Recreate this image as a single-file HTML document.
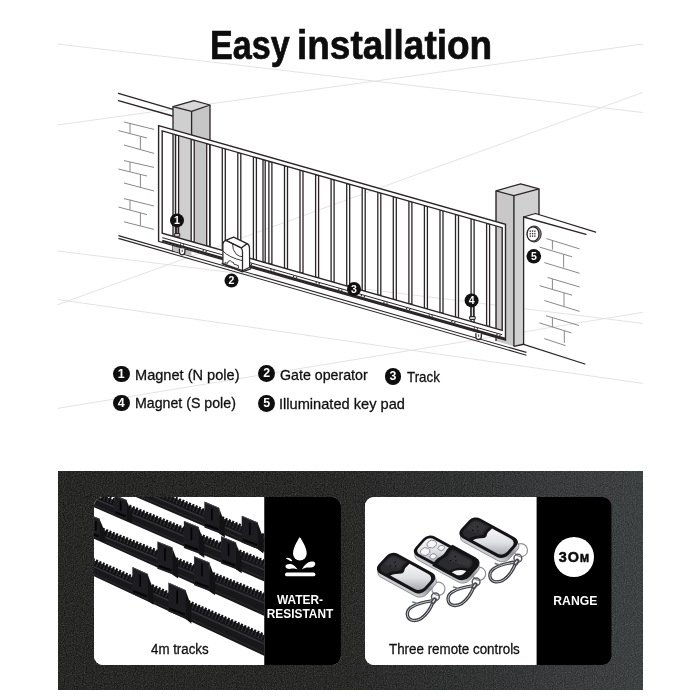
<!DOCTYPE html>
<html lang="en">
<head>
<meta charset="utf-8">
<title>Easy installation</title>
<style>
html,body{margin:0;padding:0;}
body{width:700px;height:700px;background:#fff;position:relative;overflow:hidden;font-family:"Liberation Sans",sans-serif;color:#111;}
#stage{position:absolute;left:0;top:0;width:700px;height:700px;will-change:transform;transform:translateZ(0);}
svg{position:absolute;left:0;top:0;}
svg text{font-family:"Liberation Sans",sans-serif;}
.title{position:absolute;z-index:2;left:0;top:0;margin:0;font-weight:700;font-size:41px;line-height:41px;white-space:nowrap;transform-origin:0 0;letter-spacing:0;-webkit-text-stroke:0.7px #0d0d0d;color:#0d0d0d;}
.tw{position:absolute;top:0;transform-origin:0 0;}
.leg{position:absolute;font-size:15px;line-height:16px;white-space:nowrap;transform-origin:0 0;color:#101010;-webkit-text-stroke:0.3px #101010;}
.num{position:absolute;width:16.8px;height:16.8px;margin:-0.2px 0 0 -0.2px;border-radius:50%;background:#0e0e0e;color:#fff;font-weight:700;font-size:12.4px;line-height:17px;text-align:center;}
.band{position:absolute;left:57.6px;top:471px;width:585.2px;height:219.4px;background:linear-gradient(90deg,#191a18 0%,#1b1c1a 48%,#232424 68%,#2b2d2e 84%,#323536 100%);}
.card{position:absolute;top:497px;height:168px;background:#fff;border-radius:9px;overflow:hidden;}
.panel{position:absolute;top:0;bottom:0;right:0;background:#000;}
.cap{position:absolute;font-size:14px;line-height:16px;white-space:nowrap;color:#101010;transform-origin:0 0;-webkit-text-stroke:0.3px #101010;}
.wt{position:absolute;color:#fff;font-weight:700;font-size:12.6px;line-height:14.6px;text-align:center;white-space:nowrap;transform-origin:50% 0;}
</style>
</head>
<body>
<div id="stage">
<h1 class="title" id="title" style="left:0;top:25px;width:700px;height:41px;"><span class="tw" style="left:209.6px;transform:scaleX(0.833);">Easy</span> <span class="tw" style="left:297px;transform:scaleX(0.902);">installation</span></h1>

<svg width="700" height="460" viewBox="0 0 700 460">
<g stroke="#e3e3e3" stroke-width="1" fill="none">
<line x1="57.5" y1="44" x2="642.9" y2="112.5"/>
<line x1="57.5" y1="125" x2="642.9" y2="44"/>
<line x1="57.5" y1="304.8" x2="642.9" y2="92.4"/>
<line x1="57.5" y1="251" x2="642.9" y2="323.4"/>
<line x1="57.5" y1="299.5" x2="642.9" y2="383.4"/>
<line x1="57.5" y1="408.4" x2="642.9" y2="312.3"/>
</g>
<g stroke="#2b2527" stroke-width="1.3" fill="none" stroke-linecap="round">
<line x1="118.4" y1="93.4" x2="173" y2="109.4"/>
<line x1="118.4" y1="100.6" x2="172.6" y2="116"/>
</g>
<g stroke="#8a8889" stroke-width="1" fill="none">
<line x1="124" y1="122" x2="154" y2="129.4"/>
<line x1="118.4" y1="130.6" x2="147" y2="138"/>
<line x1="124" y1="145" x2="154" y2="153.4"/>
<line x1="124" y1="160.6" x2="154" y2="167.4"/>
<line x1="118.4" y1="169" x2="147" y2="176"/>
<line x1="124" y1="183" x2="154" y2="191"/>
<line x1="124" y1="198.6" x2="154" y2="206"/>
<line x1="118.4" y1="207" x2="147" y2="214.6"/>
<line x1="124" y1="221.8" x2="154" y2="229.4"/>
<line x1="130" y1="122.8" x2="130" y2="133.6"/>
<line x1="140.4" y1="136.4" x2="140.4" y2="150"/>
<line x1="130" y1="162" x2="130" y2="172"/>
<line x1="140.4" y1="174.4" x2="140.4" y2="188"/>
<line x1="130" y1="199.6" x2="130" y2="210"/>
<line x1="140.4" y1="213" x2="140.4" y2="226"/>
</g>
<g stroke="#2b2527" stroke-width="1.1" fill="none">
<line x1="118.4" y1="235.6" x2="526.4" y2="352.4"/>
<line x1="118.4" y1="238.4" x2="526.4" y2="355.2"/>
</g>
<polygon points="173,106.6 191.6,111.4 191.6,246 173,241" fill="#cfcfcf"/>
<polygon points="191.6,111.4 210,105 210,250 191.6,246" fill="#c6c6c6"/>
<polygon points="173,106.6 194,100.6 210,105 191.6,111.4" fill="#d8d8d8" stroke="#2b2527" stroke-width="1.2" stroke-linejoin="round"/>
<g stroke="#2b2527" stroke-width="1.3" fill="none">
<line x1="173" y1="106.6" x2="173" y2="252"/>
<line x1="191.6" y1="111.4" x2="191.6" y2="250"/>
<line x1="210" y1="105" x2="210" y2="255"/>
</g>
<polygon points="496,190.8 513.9,195.7 513.9,346.4 496,341" fill="#c8c8c8"/>
<polygon points="513.9,195.7 539,188.9 539,214.6 535.4,213.5 523.6,217 523.6,344.3 513.9,346.4" fill="#d0d0d0"/>
<polygon points="496,190.8 520.7,183.9 539,188.9 513.9,195.7" fill="#dadada" stroke="#2b2527" stroke-width="1.2" stroke-linejoin="round"/>
<g stroke="#2b2527" stroke-width="1.4" fill="none">
<line x1="496" y1="190.8" x2="496" y2="341"/>
<line x1="513.9" y1="195.7" x2="513.9" y2="346.4"/>
<line x1="539" y1="188.9" x2="539" y2="214.6"/>
<polyline points="513.9,346.4 523.6,344.3"/>
</g>
<g stroke="#2b2527" stroke-width="1.3" fill="none" stroke-linejoin="round" stroke-linecap="round">
<polyline points="523.6,344.3 523.6,217 586,234.3"/>
<polyline points="523.6,217 535.4,213.5 595.7,232.1"/>
<line x1="523.6" y1="344.3" x2="584.9" y2="364"/>
</g>
<g stroke="#8a8889" stroke-width="1" fill="none">
<line x1="546.4" y1="238.6" x2="579.6" y2="248.9"/>
<line x1="539.6" y1="247.1" x2="572.1" y2="256.8"/>
<line x1="544.3" y1="262.6" x2="579.6" y2="273.3"/>
<line x1="547.5" y1="277.4" x2="579.6" y2="287"/>
<line x1="539.6" y1="285.7" x2="572.1" y2="295.2"/>
<line x1="544.3" y1="300.5" x2="579.6" y2="311.4"/>
<line x1="546" y1="315.7" x2="579" y2="325.5"/>
<line x1="539.4" y1="322.9" x2="571.4" y2="332.9"/>
<line x1="544.3" y1="338.6" x2="565.7" y2="345.7"/>
<line x1="552.4" y1="240.4" x2="552.4" y2="249.6"/>
<line x1="563.6" y1="254.4" x2="563.6" y2="267.5"/>
<line x1="552.4" y1="278.8" x2="552.4" y2="289.6"/>
<line x1="564" y1="292.8" x2="564" y2="306.6"/>
<line x1="552.4" y1="317.6" x2="552.4" y2="327"/>
<line x1="564.3" y1="330.8" x2="564.3" y2="342.9"/>
</g>
<ellipse cx="534.2" cy="234" rx="7" ry="8" fill="#9a9698" stroke="#2b2527" stroke-width="1"/>
<ellipse cx="533" cy="234" rx="6" ry="7.2" fill="#fff" stroke="#2b2527" stroke-width="1.3"/>
<g fill="#3a3a3a">
<rect x="529.6" y="230.4" width="1.3" height="1.5"/>
<rect x="529.6" y="232.9" width="1.3" height="1.5"/>
<rect x="529.6" y="235.4" width="1.3" height="1.5"/>
<rect x="531.9" y="230.4" width="1.3" height="1.5"/>
<rect x="531.9" y="232.9" width="1.3" height="1.5"/>
<rect x="531.9" y="235.4" width="1.3" height="1.5"/>
<rect x="534.2" y="230.4" width="1.3" height="1.5"/>
<rect x="534.2" y="232.9" width="1.3" height="1.5"/>
<rect x="534.2" y="235.4" width="1.3" height="1.5"/>
</g>
<polygon points="173,244.9 191.4,250.1 191.4,256.1 173,250.8" fill="#c2c2c2"/>
<g fill="#fff" stroke="#2b2527" stroke-width="1.3">
<polygon points="175.6,134.7 178.6,135.6 178.6,237.9 175.6,237"/>
<polygon points="191.2,139.2 194.2,140 194.2,242.3 191.2,241.5"/>
<polygon points="206.7,143.6 209.7,144.4 209.7,246.8 206.7,245.9"/>
<polygon points="222.3,148 225.3,148.9 225.3,251.2 222.3,250.4"/>
<polygon points="237.8,152.4 240.8,153.3 240.8,255.7 237.8,254.8"/>
<polygon points="253.4,156.9 256.4,157.7 256.4,260.1 253.4,259.2"/>
<polygon points="268.9,161.3 271.9,162.1 271.9,264.5 268.9,263.7"/>
<polygon points="284.5,165.7 287.5,166.6 287.5,269 284.5,268.1"/>
<polygon points="300,170.1 303,171 303,273.4 300,272.6"/>
<polygon points="315.6,174.6 318.6,175.4 318.6,277.9 315.6,277"/>
<polygon points="331.1,179 334.1,179.8 334.1,282.3 331.1,281.5"/>
<polygon points="346.7,183.4 349.7,184.3 349.7,286.8 346.7,285.9"/>
<polygon points="362.2,187.8 365.2,188.7 365.2,291.2 362.2,290.3"/>
<polygon points="377.8,192.2 380.8,193.1 380.8,295.6 377.8,294.8"/>
<polygon points="393.3,196.7 396.3,197.5 396.3,300.1 393.3,299.2"/>
<polygon points="408.9,201.1 411.9,201.9 411.9,304.5 408.9,303.7"/>
<polygon points="424.4,205.5 427.4,206.4 427.4,309 424.4,308.1"/>
<polygon points="440,209.9 443,210.8 443,313.4 440,312.6"/>
<polygon points="455.5,214.4 458.5,215.2 458.5,317.9 455.5,317"/>
<polygon points="471.1,218.8 474.1,219.6 474.1,322.3 471.1,321.4"/>
<polygon points="486.6,223.2 489.6,224.1 489.6,326.7 486.6,325.9"/>
<polygon points="263,159.6 265.2,160.2 265.2,262.6 263,262"/>
</g>
<g fill="#fff" stroke="#2b2527" stroke-width="1.4" stroke-linejoin="miter">
<path fill-rule="evenodd" d="M158.6 125.6 L505.5 224.3 L505.5 340 L158.6 241.3 Z M162.2 130.9 L502.2 227.7 L502.2 330.3 L162.2 233.2 Z"/>
</g>
<g stroke="#2b2527" fill="none">
<line x1="162.2" y1="237.6" x2="502.2" y2="334.7" stroke-width="1"/>
<line x1="162.2" y1="240.8" x2="505.5" y2="338.9" stroke-width="2.2"/>
<g stroke-width="1.4" stroke="#3a3436">
<line x1="180" y1="243.9" x2="181.2" y2="244.2"/>
<line x1="183" y1="244.8" x2="184.2" y2="245.1"/>
<line x1="202.6" y1="250.3" x2="203.8" y2="250.6"/>
<line x1="205.6" y1="251.2" x2="206.8" y2="251.5"/>
<line x1="225.2" y1="256.8" x2="226.4" y2="257.1"/>
<line x1="228.2" y1="257.7" x2="229.4" y2="258"/>
<line x1="247.8" y1="263.3" x2="249" y2="263.6"/>
<line x1="250.8" y1="264.2" x2="252" y2="264.5"/>
<line x1="270.4" y1="269.7" x2="271.6" y2="270"/>
<line x1="273.4" y1="270.6" x2="274.6" y2="270.9"/>
<line x1="293" y1="276.2" x2="294.2" y2="276.5"/>
<line x1="296" y1="277.1" x2="297.2" y2="277.4"/>
<line x1="315.6" y1="282.6" x2="316.8" y2="282.9"/>
<line x1="318.6" y1="283.5" x2="319.8" y2="283.8"/>
<line x1="338.2" y1="289.1" x2="339.4" y2="289.4"/>
<line x1="341.2" y1="290" x2="342.4" y2="290.3"/>
<line x1="360.8" y1="295.5" x2="362" y2="295.8"/>
<line x1="363.8" y1="296.4" x2="365" y2="296.7"/>
<line x1="383.4" y1="302" x2="384.6" y2="302.3"/>
<line x1="386.4" y1="302.9" x2="387.6" y2="303.2"/>
<line x1="406" y1="308.5" x2="407.2" y2="308.8"/>
<line x1="409" y1="309.4" x2="410.2" y2="309.7"/>
<line x1="428.6" y1="314.9" x2="429.8" y2="315.2"/>
<line x1="431.6" y1="315.8" x2="432.8" y2="316.1"/>
<line x1="451.2" y1="321.4" x2="452.4" y2="321.7"/>
<line x1="454.2" y1="322.3" x2="455.4" y2="322.6"/>
<line x1="473.8" y1="327.8" x2="475" y2="328.1"/>
<line x1="476.8" y1="328.7" x2="478" y2="329"/>
<line x1="496.4" y1="334.3" x2="497.6" y2="334.6"/>
<line x1="499.4" y1="335.2" x2="500.6" y2="335.5"/>
</g>
</g>
<path d="M179.5 248.5 v3.6 a2.7 2.7 0 0 0 5.4 0 v-3.6" fill="#fff" stroke="#2b2527" stroke-width="1.3"/>
<path d="M182.2 249.7 v2.4" fill="none" stroke="#2b2527" stroke-width="0.9"/>
<path d="M475.9 333.2 v3.6 a2.7 2.7 0 0 0 5.4 0 v-3.6" fill="#fff" stroke="#2b2527" stroke-width="1.3"/>
<path d="M478.6 334.4 v2.4" fill="none" stroke="#2b2527" stroke-width="0.9"/>
<g stroke="#2b2527" stroke-width="1.1" fill="#fff">
<line x1="176.4" y1="226" x2="176.4" y2="234"/><line x1="178" y1="226" x2="178" y2="234"/>
<rect x="174.6" y="233.6" width="5.2" height="2.6" rx="0.8"/>
<line x1="470.8" y1="306" x2="470.8" y2="317"/><line x1="473.4" y1="306" x2="473.4" y2="317"/>
<rect x="469.6" y="316.6" width="5.6" height="2.8" rx="0.8"/>
</g>
<g stroke="#2b2527" stroke-width="1.25" fill="#fff" stroke-linejoin="round">
<path d="M221.6 263.4 L242.4 271.9 L250.6 268.8 L250.6 266.4"/>
<path d="M241.1 247.9 L247.1 243.6 Q249.4 244.6 249.5 248 L249.6 267.2 L242.5 270.7 Z"/>
<path d="M225.7 240.4 L233.6 237.1 L247.1 243.6 L241.1 247.9 Z"/>
<path d="M222.9 263.6 L222.9 244.6 Q223 241.2 225.7 240.4 L241.1 247.9 Q242.4 249 242.5 252 L242.5 270.7 Z"/>
</g>
<g stroke="#2b2527" stroke-width="0.9" fill="none" stroke-linecap="round">
<path d="M232.5 244.3 Q232.3 250 236.4 254.3 Q239 256.6 242.3 256.8"/>
<path d="M223.2 251.4 Q229.3 257.6 242.3 260.7"/>
<path d="M225 264.2 l0 -1.7 l2.6 0.9 l0.6 -2 l2 -0.8 l1.6 1.4 l1.8 0.6 l0.4 1.6 l4.4 1.4 l0 2.2"/>
</g>
<circle cx="177" cy="220.4" r="7" fill="#111"/>
<text x="177" y="224.2" font-size="10.5" font-weight="700" fill="#fff" text-anchor="middle">1</text>
<circle cx="231.5" cy="280.6" r="7" fill="#111"/>
<text x="231.5" y="284.4" font-size="10.5" font-weight="700" fill="#fff" text-anchor="middle">2</text>
<circle cx="354" cy="289" r="7" fill="#111"/>
<text x="354" y="292.8" font-size="10.5" font-weight="700" fill="#fff" text-anchor="middle">3</text>
<circle cx="471.6" cy="300.4" r="7" fill="#111"/>
<text x="471.6" y="304.2" font-size="10.5" font-weight="700" fill="#fff" text-anchor="middle">4</text>
<circle cx="533.8" cy="256.3" r="7.3" fill="#111"/>
<text x="533.8" y="260.1" font-size="10.5" font-weight="700" fill="#fff" text-anchor="middle">5</text>
</svg>

<div class="num" style="left:113px;top:365.8px;">1</div>
<div class="leg" id="l1" style="left:135.2px;top:366.5px;transform:scaleX(0.972);">Magnet (N pole)</div>
<div class="num" style="left:258.5px;top:365.4px;">2</div>
<div class="leg" id="l2" style="left:279.8px;top:366.5px;transform:scaleX(0.947);">Gate operator</div>
<div class="num" style="left:384.7px;top:368.2px;">3</div>
<div class="leg" id="l3" style="left:407px;top:368.6px;transform:scaleX(0.89);">Track</div>
<div class="num" style="left:113px;top:394.7px;">4</div>
<div class="leg" id="l4" style="left:135.2px;top:395.2px;transform:scaleX(0.945);">Magnet (S pole)</div>
<div class="num" style="left:258.5px;top:395.5px;">5</div>
<div class="leg" id="l5" style="left:279.2px;top:395.8px;transform:scaleX(0.974);">Illuminated key pad</div>

<div class="band"></div>
<div class="card" style="left:94px;width:246.6px;"><div class="panel" style="width:76.2px;"></div></div>
<div class="card" style="left:365px;width:246.4px;"><div class="panel" style="width:74.8px;"></div></div>

<svg width="700" height="700" viewBox="0 0 700 700">
<defs>
<clipPath id="c1clip"><path d="M103 497 H264.5 V665 H103 A9 9 0 0 1 94 656 V506 A9 9 0 0 1 103 497 Z"/></clipPath>
<linearGradient id="silv" x1="0" y1="0" x2="1" y2="1"><stop offset="0" stop-color="#fbfbfc"/><stop offset="0.55" stop-color="#dfe0e4"/><stop offset="1" stop-color="#9fa2aa"/></linearGradient>
<linearGradient id="chrome" x1="0" y1="0" x2="0" y2="1"><stop offset="0" stop-color="#e8e9ec"/><stop offset="0.5" stop-color="#8e9098"/><stop offset="1" stop-color="#d4d5d9"/></linearGradient>
<linearGradient id="blk" x1="0" y1="0" x2="1" y2="1"><stop offset="0" stop-color="#2c2c30"/><stop offset="0.5" stop-color="#151517"/><stop offset="1" stop-color="#0c0c0d"/></linearGradient>
<filter id="grain" x="0" y="0" width="100%" height="100%"><feTurbulence type="fractalNoise" baseFrequency="0.9" numOctaves="2" seed="3"/><feColorMatrix type="matrix" values="0 0 0 0 1  0 0 0 0 1  0 0 0 0 1  0.55 0.55 0.55 0 -0.62"/></filter>
</defs>
<rect x="57.6" y="471" width="585.2" height="219.4" filter="url(#grain)" opacity="0.3"/>
<path d="M103 497 H264.5 V665 H103 A9 9 0 0 1 94 656 V506 A9 9 0 0 1 103 497 Z" fill="#fff"/>
<path d="M264.5 497 H331.6 A9 9 0 0 1 340.6 506 V656 A9 9 0 0 1 331.6 665 H264.5 Z" fill="#000"/>
<path d="M374 497 H536.6 V665 H374 A9 9 0 0 1 365 656 V506 A9 9 0 0 1 374 497 Z" fill="#fff"/>
<path d="M536.6 497 H602.4 A9 9 0 0 1 611.4 506 V656 A9 9 0 0 1 602.4 665 H536.6 Z" fill="#000"/>
<g clip-path="url(#c1clip)">
<polygon points="91.9,467 266.5,541.6 266.5,552.9 91.9,478.2" fill="#18181b"/>
<polygon points="91.9,463.3 266.5,536.5 266.5,542.2 91.9,467.4" fill="#2b2c31"/>
<line x1="91.9" y1="465" x2="266.5" y2="538.4" stroke="#101012" stroke-width="6.8" stroke-dasharray="2.1 1.5"/>
<line x1="91.9" y1="469.8" x2="266.5" y2="545.2" stroke="#34353a" stroke-width="1.4"/>
<line x1="91.9" y1="476" x2="266.5" y2="549.9" stroke="#2a2b2f" stroke-width="1"/>
<polygon points="204.4,501.6 219.4,507.9 220.6,533.7 204.4,527.4" fill="#1d1d21"/>
<polygon points="219.4,508.9 224.9,523.6 224.9,537.5 219.4,533.7" fill="#121214"/>
<polyline points="204.9,502.2 219.1,508.3" fill="none" stroke="#4a4b52" stroke-width="1"/>
<line x1="211.9" y1="509.2" x2="211.9" y2="519.9" stroke="#050506" stroke-width="1.8" stroke-linecap="round"/>
<line x1="205.4" y1="524.4" x2="218.4" y2="529.5" stroke="#050506" stroke-width="2.2"/>
<polygon points="241.7,515.7 257.9,522.5 259.1,549.3 241.7,542.5" fill="#1d1d21"/>
<polygon points="257.9,523.5 263.4,538.5 263.4,553.4 257.9,549.3" fill="#121214"/>
<polyline points="242.2,516.3 257.6,522.9" fill="none" stroke="#4a4b52" stroke-width="1"/>
<line x1="249.8" y1="523.6" x2="249.8" y2="534.7" stroke="#050506" stroke-width="1.8" stroke-linecap="round"/>
<line x1="242.7" y1="539.5" x2="256.9" y2="545" stroke="#050506" stroke-width="2.2"/>
<polygon points="91.9,494.8 266.5,567.2 266.5,582.4 91.9,506.3" fill="#18181b"/>
<polygon points="91.9,491.1 266.5,562.1 266.5,567.8 91.9,495.2" fill="#2b2c31"/>
<line x1="91.9" y1="492.8" x2="266.5" y2="564" stroke="#101012" stroke-width="6.8" stroke-dasharray="2.1 1.5"/>
<line x1="91.9" y1="497.6" x2="266.5" y2="570.8" stroke="#34353a" stroke-width="1.4"/>
<line x1="91.9" y1="504.1" x2="266.5" y2="579.4" stroke="#2a2b2f" stroke-width="1"/>
<polygon points="114.4,495 126.8,500 128,520.3 114.4,515.3" fill="#1d1d21"/>
<polygon points="126.8,501 132.3,515.1 132.3,523.3 126.8,520.3" fill="#121214"/>
<polyline points="114.9,495.6 126.5,500.4" fill="none" stroke="#4a4b52" stroke-width="1"/>
<line x1="120.6" y1="502" x2="120.6" y2="510.4" stroke="#050506" stroke-width="1.8" stroke-linecap="round"/>
<line x1="115.4" y1="512.3" x2="125.8" y2="516.3" stroke="#050506" stroke-width="2.2"/>
<polygon points="183.9,520.9 198.8,526.9 200,554.1 183.9,548.1" fill="#1d1d21"/>
<polygon points="198.8,527.9 204.3,542.7 204.3,557.7 198.8,554.1" fill="#121214"/>
<polyline points="184.4,521.5 198.5,527.3" fill="none" stroke="#4a4b52" stroke-width="1"/>
<line x1="191.4" y1="528.4" x2="191.4" y2="539.5" stroke="#050506" stroke-width="1.8" stroke-linecap="round"/>
<line x1="184.9" y1="545.1" x2="197.8" y2="549.9" stroke="#050506" stroke-width="2.2"/>
<polygon points="221.1,536.3 236.1,542.4 237.3,569.6 221.1,563.6" fill="#1d1d21"/>
<polygon points="236.1,543.4 241.6,558.1 241.6,573.3 236.1,569.6" fill="#121214"/>
<polyline points="221.6,536.9 235.8,542.8" fill="none" stroke="#4a4b52" stroke-width="1"/>
<line x1="228.6" y1="543.8" x2="228.6" y2="555" stroke="#050506" stroke-width="1.8" stroke-linecap="round"/>
<line x1="222.1" y1="560.6" x2="235.1" y2="565.4" stroke="#050506" stroke-width="2.2"/>
<polygon points="91.9,528.8 266.5,600.2 266.5,616.9 91.9,537.8" fill="#18181b"/>
<polygon points="91.9,525.1 266.5,595.1 266.5,600.8 91.9,529.2" fill="#2b2c31"/>
<line x1="91.9" y1="526.8" x2="266.5" y2="597" stroke="#101012" stroke-width="6.8" stroke-dasharray="2.1 1.5"/>
<line x1="91.9" y1="531.6" x2="266.5" y2="603.8" stroke="#34353a" stroke-width="1.4"/>
<line x1="91.9" y1="535.6" x2="266.5" y2="613.9" stroke="#2a2b2f" stroke-width="1"/>
<polygon points="92,515.7 99.8,518.8 101,540.1 92,537" fill="#1d1d21"/>
<polygon points="99.8,519.8 105.3,532.8 105.3,542 99.8,540.1" fill="#121214"/>
<polyline points="92.5,516.3 99.5,519.2" fill="none" stroke="#4a4b52" stroke-width="1"/>
<line x1="95.9" y1="521.8" x2="95.9" y2="530.1" stroke="#050506" stroke-width="1.8" stroke-linecap="round"/>
<line x1="93" y1="534" x2="98.8" y2="536.5" stroke="#050506" stroke-width="2.2"/>
<polygon points="157.4,541.4 172.6,547.5 173.8,574.7 157.4,568.7" fill="#1d1d21"/>
<polygon points="172.6,548.5 178.1,563.3 178.1,578.4 172.6,574.7" fill="#121214"/>
<polyline points="157.9,542 172.3,547.9" fill="none" stroke="#4a4b52" stroke-width="1"/>
<line x1="165" y1="548.9" x2="165" y2="560.1" stroke="#050506" stroke-width="1.8" stroke-linecap="round"/>
<line x1="158.4" y1="565.7" x2="171.6" y2="570.5" stroke="#050506" stroke-width="2.2"/>
<polygon points="194.1,556.3 209.6,562.5 210.8,591.5 194.1,585.3" fill="#1d1d21"/>
<polygon points="209.6,563.5 215.1,578.4 215.1,595.2 209.6,591.5" fill="#121214"/>
<polyline points="194.6,556.9 209.3,562.9" fill="none" stroke="#4a4b52" stroke-width="1"/>
<line x1="201.9" y1="563.9" x2="201.9" y2="575.7" stroke="#050506" stroke-width="1.8" stroke-linecap="round"/>
<line x1="195.1" y1="582.3" x2="208.6" y2="587.2" stroke="#050506" stroke-width="2.2"/>
<polygon points="91.9,563 266.5,641.3 266.5,656.9 91.9,575.2" fill="#18181b"/>
<polygon points="91.9,559.3 266.5,636.2 266.5,641.9 91.9,563.4" fill="#2b2c31"/>
<line x1="91.9" y1="561" x2="266.5" y2="638.1" stroke="#101012" stroke-width="6.8" stroke-dasharray="2.1 1.5"/>
<line x1="91.9" y1="565.8" x2="266.5" y2="644.9" stroke="#34353a" stroke-width="1.4"/>
<line x1="91.9" y1="573" x2="266.5" y2="653.9" stroke="#2a2b2f" stroke-width="1"/>
<polygon points="132.4,567.1 147.9,573.9 149.1,600.7 132.4,593.9" fill="#1d1d21"/>
<polygon points="147.9,574.9 153.4,589.8 153.4,604.8 147.9,600.7" fill="#121214"/>
<polyline points="132.9,567.7 147.6,574.3" fill="none" stroke="#4a4b52" stroke-width="1"/>
<line x1="140.2" y1="575" x2="140.2" y2="586.1" stroke="#050506" stroke-width="1.8" stroke-linecap="round"/>
<line x1="133.4" y1="590.9" x2="146.9" y2="596.4" stroke="#050506" stroke-width="2.2"/>
<polygon points="168.4,582.6 185.9,590.3 187.1,619.1 168.4,611.4" fill="#1d1d21"/>
<polygon points="185.9,591.3 191.4,606.6 191.4,623.7 185.9,619.1" fill="#121214"/>
<polyline points="168.9,583.2 185.6,590.7" fill="none" stroke="#4a4b52" stroke-width="1"/>
<line x1="177.2" y1="590.9" x2="177.2" y2="603" stroke="#050506" stroke-width="1.8" stroke-linecap="round"/>
<line x1="169.4" y1="608.4" x2="184.9" y2="614.5" stroke="#050506" stroke-width="2.2"/>
</g>
<g fill="#fff">
<path d="M299.8 537 C299.8 537 293 546.6 293 553.6 A6.85 6.85 0 0 0 306.7 553.6 C306.7 546.6 299.8 537 299.8 537 Z"/>
<path d="M285.8 558.3 C287.4 556.9 290.6 557.8 292.3 560.6 C291.8 561.5 290.6 561.4 289.8 560.8 C288.6 559.8 287 559.4 285.8 558.3 Z"/>
<path d="M285.4 566 C286 563.6 291 563.3 293.6 565.2 C295.6 566.6 296.8 568.2 297.6 569.4 C294.6 568.2 292.6 568.4 290.6 568.8 C288.4 569.2 285.2 568.6 285.4 566 Z"/>
<path d="M315.2 563.2 C314.8 561 310.4 560.8 307.4 563 C304.8 564.9 303 567.2 302 569.4 C304.6 567.6 307.2 567.4 309.6 567.6 C312.6 567.8 315.6 566 315.2 563.2 Z"/>
<rect x="285" y="572.5" width="30.4" height="3.8" rx="1.9"/>
</g>
<circle cx="574" cy="557" r="20" fill="#fff"/>
<text x="574.4" y="562.2" font-size="14.4" font-weight="700" text-anchor="middle" fill="#0a0a0a" stroke="#0a0a0a" stroke-width="0.5" letter-spacing="1">3O<tspan font-size="10.8">M</tspan></text>
<g fill="none" stroke-linecap="round" stroke-linejoin="round">
<circle cx="520.9" cy="550.2" r="6.6" stroke="#8f9197" stroke-width="1.2"/>
<path d="M515.9 562 C509.5 562.8 499.5 564.8 493.5 568.8 C487.9 572.8 488.9 581 495.5 581.8 C502.1 582.6 507.1 577.8 510.9 572.4 C513.1 569 515.1 565.4 515.9 562 Z" stroke="#3c3d42" stroke-width="3.3"/>
<path d="M515.9 562 C509.5 562.8 499.5 564.8 493.5 568.8 C487.9 572.8 488.9 581 495.5 581.8 C502.1 582.6 507.1 577.8 510.9 572.4 C513.1 569 515.1 565.4 515.9 562 Z" stroke="#c9cace" stroke-width="1"/>
<circle cx="517.9" cy="558.2" r="3.9" stroke="#5a5b60" stroke-width="1.5"/>
<path d="M499.9 565 l-4.6 -1.6" stroke="#77797f" stroke-width="1.6"/>
<path d="M517.3 561 L515.7 563.4" stroke="#48494e" stroke-width="4.6"/>
<path d="M516.9 561.2 L515.5 563.2" stroke="#dcdde0" stroke-width="1.4"/>
</g>
<rect transform="matrix(0.7500 0.4100 -0.5933 0.6533 474.9 518.8)" x="0" y="0" width="63" height="30" rx="8.4" fill="url(#chrome)" stroke="#7d7f86" stroke-width="0.9"/>
<g transform="matrix(0.7500 0.4100 -0.5933 0.6533 473.9 515)">
<rect x="0" y="0" width="63" height="30" rx="8.4" fill="#141416"/>
<path d="M27 3.6 H52 A7 7 0 0 1 59.4 10.6 V19.4 A7 7 0 0 1 52 26.4 H19.4 C21 22.4 24.4 20.4 27.4 18 C30.4 15.4 26.4 12.6 26.6 9.4 C26.8 7.4 27 5.4 27 3.6 Z" fill="url(#silv)"/>
<path d="M10 3 H23.6 C23.4 7 22.6 10 24 13 C25 15.4 23 17 20.4 19 C17.6 21 15.6 23.6 14.6 27 H10 A7 7 0 0 1 3 20 V10 A7 7 0 0 1 10 3 Z" fill="#2b2b2f"/>
<path d="M10 5 H21 C21 8 20 11 21.4 13.6 C18 16 13 18 5 18.6 V10 A5 5 0 0 1 10 5 Z" fill="#37373c" opacity="0.8"/>
<circle cx="12.6" cy="10" r="0.75" fill="#000"/><circle cx="16.6" cy="14" r="0.75" fill="#000"/><circle cx="11.4" cy="16.4" r="0.75" fill="#000"/>
</g>
<g fill="none" stroke-linecap="round" stroke-linejoin="round">
<circle cx="479.1" cy="573.8" r="6.6" stroke="#8f9197" stroke-width="1.2"/>
<path d="M474.1 585.6 C467.7 586.4 457.7 588.4 451.7 592.4 C446.1 596.4 447.1 604.6 453.7 605.4 C460.3 606.2 465.3 601.4 469.1 596 C471.3 592.6 473.3 589 474.1 585.6 Z" stroke="#3c3d42" stroke-width="3.3"/>
<path d="M474.1 585.6 C467.7 586.4 457.7 588.4 451.7 592.4 C446.1 596.4 447.1 604.6 453.7 605.4 C460.3 606.2 465.3 601.4 469.1 596 C471.3 592.6 473.3 589 474.1 585.6 Z" stroke="#c9cace" stroke-width="1"/>
<circle cx="476.1" cy="581.8" r="3.9" stroke="#5a5b60" stroke-width="1.5"/>
<path d="M458.1 588.6 l-4.6 -1.6" stroke="#77797f" stroke-width="1.6"/>
<path d="M475.5 584.6 L473.9 587" stroke="#48494e" stroke-width="4.6"/>
<path d="M475.1 584.8 L473.7 586.8" stroke="#dcdde0" stroke-width="1.4"/>
</g>
<rect transform="matrix(0.7500 0.4100 -0.5933 0.6533 434.6 539.7)" x="-7" y="0" width="71" height="30" rx="8.4" fill="url(#chrome)" stroke="#7d7f86" stroke-width="0.9"/>
<g transform="matrix(0.7500 0.4100 -0.5933 0.6533 433.6 535.9)">
<rect x="-7" y="0" width="71" height="30" rx="8.4" fill="#141416"/>
<path d="M1 3.4 H27 V26.6 H1 A6.4 6.4 0 0 1 -3.8 20.4 V9.6 A6.4 6.4 0 0 1 1 3.4 Z" fill="url(#silv)"/>
<circle cx="5" cy="9.4" r="5" fill="#f6f6f8" stroke="#85878e" stroke-width="1"/>
<circle cx="16.6" cy="8" r="3.4" fill="#f6f6f8" stroke="#85878e" stroke-width="1"/>
<circle cx="5.2" cy="20.8" r="5" fill="#f6f6f8" stroke="#85878e" stroke-width="1"/>
<circle cx="16.2" cy="21.2" r="3.4" fill="#f6f6f8" stroke="#85878e" stroke-width="1"/>
<path d="M24 -1.6 H55 A9.5 9.5 0 0 1 65 8 V21.6 A9.5 9.5 0 0 1 55 31.2 H23 C20.6 26 21 21 23 17 C25 13 23 9 23 5 C23 2.6 23.4 0.4 24 -1.6 Z" fill="#141416"/>
<path d="M28 3 H50 A7 7 0 0 1 58 10 V14 C50 15 45 20 42 27 H27 C25.4 23 25.6 20 27 17 C29 13 27 9 27 6 Z" fill="#2b2b2f"/>
<path d="M29 5 H49 A5 5 0 0 1 55.6 10 V12 C48 13 41 16 33 17 C31 13.6 29.4 9 29 5 Z" fill="#37373c" opacity="0.8"/>
<path d="M45.6 27 C47.6 22.4 51.4 19 57.6 17.6 V20.4 A6.4 6.4 0 0 1 51 27 Z" fill="#f4f4f6"/>
<circle cx="36" cy="9" r="0.75" fill="#000"/><circle cx="40" cy="13" r="0.75" fill="#000"/><circle cx="35" cy="15.6" r="0.75" fill="#000"/>
</g>
<g fill="none" stroke-linecap="round" stroke-linejoin="round">
<circle cx="438.4" cy="588.8" r="6.6" stroke="#8f9197" stroke-width="1.2"/>
<path d="M433.4 600.6 C427 601.4 417 603.4 411 607.4 C405.4 611.4 406.4 619.6 413 620.4 C419.6 621.2 424.6 616.4 428.4 611 C430.6 607.6 432.6 604 433.4 600.6 Z" stroke="#3c3d42" stroke-width="3.3"/>
<path d="M433.4 600.6 C427 601.4 417 603.4 411 607.4 C405.4 611.4 406.4 619.6 413 620.4 C419.6 621.2 424.6 616.4 428.4 611 C430.6 607.6 432.6 604 433.4 600.6 Z" stroke="#c9cace" stroke-width="1"/>
<circle cx="435.4" cy="596.8" r="3.9" stroke="#5a5b60" stroke-width="1.5"/>
<path d="M417.4 603.6 l-4.6 -1.6" stroke="#77797f" stroke-width="1.6"/>
<path d="M434.8 599.6 L433.2 602" stroke="#48494e" stroke-width="4.6"/>
<path d="M434.4 599.8 L433 601.8" stroke="#dcdde0" stroke-width="1.4"/>
</g>
<rect transform="matrix(0.7500 0.4100 -0.5933 0.6533 392.4 554.2)" x="0" y="0" width="63" height="30" rx="8.4" fill="url(#chrome)" stroke="#7d7f86" stroke-width="0.9"/>
<g transform="matrix(0.7500 0.4100 -0.5933 0.6533 391.4 550.4)">
<rect x="0" y="0" width="63" height="30" rx="8.4" fill="#141416"/>
<path d="M27 3.6 H52 A7 7 0 0 1 59.4 10.6 V19.4 A7 7 0 0 1 52 26.4 H19.4 C21 22.4 24.4 20.4 27.4 18 C30.4 15.4 26.4 12.6 26.6 9.4 C26.8 7.4 27 5.4 27 3.6 Z" fill="url(#silv)"/>
<path d="M10 3 H23.6 C23.4 7 22.6 10 24 13 C25 15.4 23 17 20.4 19 C17.6 21 15.6 23.6 14.6 27 H10 A7 7 0 0 1 3 20 V10 A7 7 0 0 1 10 3 Z" fill="#2b2b2f"/>
<path d="M10 5 H21 C21 8 20 11 21.4 13.6 C18 16 13 18 5 18.6 V10 A5 5 0 0 1 10 5 Z" fill="#37373c" opacity="0.8"/>
<circle cx="12.6" cy="10" r="0.75" fill="#000"/><circle cx="16.6" cy="14" r="0.75" fill="#000"/><circle cx="11.4" cy="16.4" r="0.75" fill="#000"/>
</g>
</svg>

<div class="cap" id="c1" style="left:151.2px;top:640.5px;transform:scaleX(0.95);">4m tracks</div>
<div class="cap" id="c2" style="left:388.8px;top:640.5px;transform:scaleX(0.955);">Three remote controls</div>
<div class="wt" id="w1" style="left:262px;width:76px;top:594.2px;line-height:13.7px;transform:scaleX(0.943);">WATER-<br>RESISTANT</div>
<div class="wt" id="w2" style="left:538px;width:74.6px;top:593.6px;font-size:13px;transform:scaleX(0.935);">RANGE</div>

</div>

</body>
</html>
